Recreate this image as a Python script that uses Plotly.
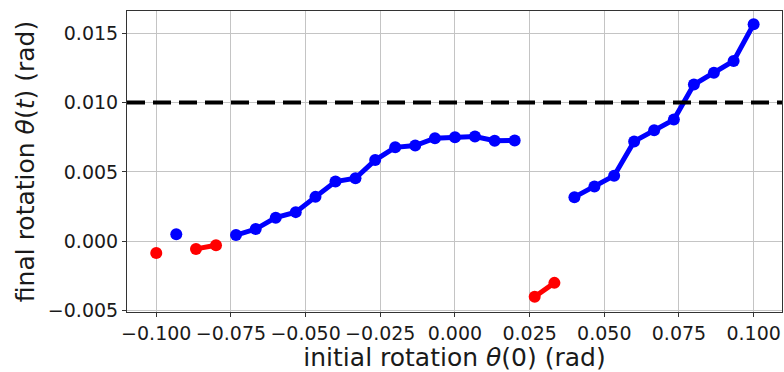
import plotly.graph_objects as go

# initial rotation theta(0) values (rad)
theta0 = [-0.1000, -0.0933, -0.0867, -0.0800, -0.0733, -0.0667, -0.0600, -0.0533,
          -0.0467, -0.0400, -0.0333, -0.0267, -0.0200, -0.0133, -0.0067, 0.0000,
          0.0067, 0.0133, 0.0200, 0.0267, 0.0333, 0.0400, 0.0467, 0.0533,
          0.0600, 0.0667, 0.0733, 0.0800, 0.0867, 0.0933, 0.1000]

# final rotation, blue (stable) segments; None = not in this series
blue_theta = [None, 0.00050, None, None, 0.00045, 0.00088, 0.00170, 0.00210,
              0.00320, 0.00430, 0.00454, 0.00585, 0.00677, 0.00690, 0.00743, 0.00750,
              0.00755, 0.00725, 0.00727, None, None, 0.00318, 0.00394, 0.00473,
              0.00720, 0.00800, 0.00877, 0.01130, 0.01215, 0.01300, 0.01564]

# final rotation, red segments
red_theta = [-0.00084, None, -0.00055, -0.00029, None, None, None, None,
             None, None, None, None, None, None, None, None,
             None, None, None, -0.00400, -0.00300, None, None, None,
             None, None, None, None, None, None, None]

threshold = 0.010

fig = go.Figure()
fig.add_trace(go.Scatter(x=theta0, y=blue_theta, mode="lines+markers",
                         line=dict(color="#0000ff", width=5),
                         marker=dict(color="#0000ff", size=12),
                         connectgaps=False, showlegend=False))
fig.add_trace(go.Scatter(x=theta0, y=red_theta, mode="lines+markers",
                         line=dict(color="#ff0000", width=5),
                         marker=dict(color="#ff0000", size=12),
                         connectgaps=False, showlegend=False))

fig.add_shape(type="line", xref="paper", yref="y", x0=0, x1=1,
              y0=threshold, y1=threshold, layer="above",
              line=dict(color="black", width=4, dash="18px,8px"))

font = "DejaVu Sans"
fig.update_layout(
    width=784, height=372,
    margin=dict(l=127, r=2, t=11, b=60, autoexpand=False),
    plot_bgcolor="white", paper_bgcolor="white",
    font=dict(family=font, color="#1a1a1a"),
)
fig.update_xaxes(range=[-0.1098, 0.1095], tick0=0, dtick=0.025, tickformat=".3f",
                 showgrid=True, gridcolor="#c4c4c4", gridwidth=1,
                 showline=True, linecolor="#333333", linewidth=1, mirror=True,
                 ticks="outside", ticklen=4, tickcolor="#333333",
                 tickfont=dict(size=19, family=font),
                 zeroline=False,
                 title=dict(text="initial rotation <i>θ</i>(0) (rad)",
                            font=dict(size=25, family=font), standoff=4))
fig.update_yaxes(range=[-0.0051, 0.0166], tick0=0, dtick=0.005, tickformat=".3f",
                 showgrid=True, gridcolor="#c4c4c4", gridwidth=1,
                 showline=True, linecolor="#333333", linewidth=1, mirror=True,
                 ticks="outside", ticklen=4, tickcolor="#333333",
                 tickfont=dict(size=19, family=font),
                 zeroline=False,
                 title=dict(text="final rotation <i>θ</i>(<i>t</i>) (rad)",
                            font=dict(size=25, family=font), standoff=6))

fig.write_html("out.html")
